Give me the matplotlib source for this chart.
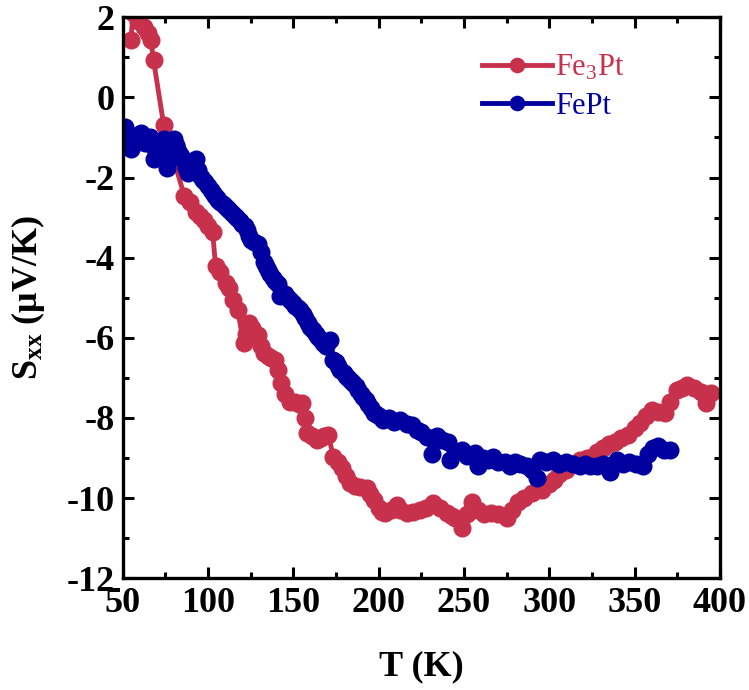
import matplotlib
matplotlib.use("Agg")
import matplotlib.pyplot as plt
from matplotlib.ticker import MultipleLocator

plt.rcParams['font.family'] = ['Liberation Serif', 'DejaVu Serif']
plt.rcParams['mathtext.fontset'] = 'custom'
plt.rcParams['mathtext.rm'] = 'Liberation Serif'
plt.rcParams['mathtext.it'] = 'Liberation Serif:italic'
plt.rcParams['mathtext.bf'] = 'Liberation Serif:bold'
plt.rcParams['axes.unicode_minus'] = False

fe3pt_T = [54.7, 56, 58.8, 62.3, 64.5, 66.4, 68, 74, 86, 89.5, 92.7, 95, 97.4, 100, 102.6,
           104.4, 107, 110.3, 112, 114.4, 117.3, 120.8, 122, 123.7, 126, 129, 131, 132.5,
           135, 137, 139.5, 141, 142.5, 145, 148.3, 151, 153, 155, 157, 158, 161, 164, 166,
           168, 170.5, 173.5, 176, 178.7, 181, 183.4, 186, 189, 193, 195, 197, 200, 202,
           204, 207.5, 211, 212.7, 216.8, 220, 224, 228, 232, 236, 240, 243, 245, 249, 252,
           254.8, 258, 262, 266, 270, 275, 278, 281.7, 285, 290, 293, 296, 300, 303, 306,
           310, 314, 318, 322, 325, 328, 331.5, 335, 338.5, 342, 346, 350, 353, 357, 360,
           364, 367.7, 371, 374.7, 378, 381, 385, 389, 392, 395]
fe3pt_S = [1.43, 2.1, 1.9, 1.75, 1.6, 1.43, 0.93, -0.7, -2.45, -2.6, -2.85, -2.95, -3.05, -3.2,
           -3.35, -4.22, -4.35, -4.63, -4.75, -5.05, -5.3, -6.13, -5.9, -5.63, -5.75, -5.93,
           -6.2, -6.38, -6.45, -6.5, -6.55, -6.8, -7.13, -7.4, -7.6, -7.6, -7.65, -7.63, -8.0,
           -8.38, -8.45, -8.55, -8.5, -8.45, -8.43, -8.98, -9.1, -9.25, -9.45, -9.63, -9.7,
           -9.72, -9.75, -9.9, -10.05, -10.25, -10.35, -10.38, -10.3, -10.18, -10.3, -10.38,
           -10.35, -10.3, -10.25, -10.13, -10.25, -10.38, -10.45, -10.5, -10.75, -10.4, -10.1,
           -10.3, -10.4, -10.38, -10.4, -10.5, -10.3, -10.1, -10.0, -9.88, -9.8, -9.8, -9.65,
           -9.55, -9.4, -9.3, -9.15, -9.05, -9.0, -8.97, -8.85, -8.75, -8.65, -8.6, -8.5,
           -8.42, -8.25, -8.12, -7.95, -7.8, -7.85, -7.88, -7.6, -7.3, -7.25, -7.18, -7.25,
           -7.35, -7.63, -7.38]

fept_T = [51, 52, 53, 54.7, 56, 57, 59, 60.5, 62, 63, 64.5, 66, 67, 68, 69.5, 71, 72.5, 74,
          75, 76, 77, 78, 79, 80, 81, 82, 83, 84, 85, 86, 87, 88, 89, 90, 91, 92.7, 94,
          95.6, 97, 98, 100, 101.5, 103, 104, 105, 106, 107, 108.5, 110, 111, 112.5, 114,
          115.5, 117, 118.5, 120, 121.5, 123, 124, 125, 127, 129, 131, 132.5, 134, 135,
          136.5, 138, 139.5, 140.7, 142, 143.5, 145, 146.5, 148, 149.5, 151, 152.5, 154,
          155.5, 157, 158.5, 160, 161.5, 163, 164.5, 166, 167.5, 169, 171.5, 173.5, 175,
          176, 177.5, 179.5, 181, 182, 183.5, 185, 186.5, 188, 189.5, 191, 192.5, 194,
          195.5, 197, 198.5, 200, 202.7, 206, 209, 212.7, 216.8, 219.7, 222.6, 225, 228.5,
          231.4, 234, 237, 240.7, 242, 245, 249, 252, 256.5, 258, 261, 264, 267, 270, 274,
          277, 280, 283, 287, 290, 292.8, 294.6, 298, 302, 306, 310, 314, 318, 321, 324,
          328, 331.5, 335.5, 339.6, 343, 347, 351, 355, 358, 361, 363.6, 367, 370.6]
fept_S = [-0.75, -0.9, -1.05, -1.3, -1.2, -1.0, -0.95, -0.9, -1.05, -1.15, -1.1, -1.0, -1.2,
          -1.55, -1.35, -1.2, -1.1, -1.05, -1.4, -1.75, -1.55, -1.3, -1.15, -1.05, -1.2,
          -1.3, -1.4, -1.47, -1.55, -1.6, -1.75, -1.88, -1.8, -1.7, -1.6, -1.55, -1.8,
          -1.98, -2.05, -2.1, -2.2, -2.3, -2.38, -2.45, -2.5, -2.55, -2.6, -2.65, -2.7,
          -2.75, -2.8, -2.88, -2.95, -3.0, -3.08, -3.15, -3.22, -3.3, -3.45, -3.55, -3.6,
          -3.65, -3.85, -4.1, -4.2, -4.3, -4.4, -4.5, -4.58, -4.65, -4.95, -4.9, -4.9,
          -4.98, -5.05, -5.12, -5.2, -5.25, -5.3, -5.4, -5.5, -5.62, -5.73, -5.8, -5.9,
          -5.98, -6.05, -6.12, -6.2, -6.05, -6.55, -6.6, -6.7, -6.8, -6.88, -6.95, -7.0,
          -7.07, -7.13, -7.2, -7.3, -7.4, -7.48, -7.55, -7.65, -7.75, -7.88, -7.9, -7.95,
          -8.05, -8.0, -8.1, -8.05, -8.15, -8.18, -8.3, -8.35, -8.48, -8.9, -8.45, -8.55,
          -8.6, -9.05, -8.85, -8.8, -8.95, -8.88, -9.2, -9.0, -9.05, -8.97, -9.1, -9.1,
          -9.2, -9.1, -9.15, -9.2, -9.3, -9.5, -9.05, -9.1, -9.05, -9.15, -9.1, -9.15,
          -9.2, -9.15, -9.2, -9.2, -9.15, -9.35, -9.05, -9.15, -9.1, -9.15, -9.2, -8.9,
          -8.75, -8.7, -8.8, -8.8]

red = '#C8314B'
blue = '#0000A0'

fig = plt.figure(figsize=(7.49, 6.90), dpi=100)
ax = fig.add_axes([0.164, 0.162, 0.797, 0.813])

ax.plot(fe3pt_T, fe3pt_S, '-o', color=red, lw=3.5, ms=12, label='Fe$_3$Pt')
ax.plot(fept_T, fept_S, '-o', color=blue, lw=3.5, ms=12, label='FePt')

ax.set_xlim(50, 400)
ax.set_ylim(-12, 2)
ax.xaxis.set_major_locator(MultipleLocator(50))
ax.xaxis.set_minor_locator(MultipleLocator(25))
ax.yaxis.set_major_locator(MultipleLocator(2))
ax.yaxis.set_minor_locator(MultipleLocator(1))
ax.tick_params(which='both', direction='in', top=True, right=True, width=2.2)
ax.tick_params(which='major', length=8, labelsize=26, pad=6)
ax.tick_params(which='minor', length=4)
for lab in ax.get_xticklabels() + ax.get_yticklabels():
    lab.set_fontweight('bold')
for sp in ax.spines.values():
    sp.set_linewidth(2.4)

ax.set_xlabel('T (K)', fontsize=26, fontweight='bold', labelpad=22)
ax.set_ylabel(r'S$_{\mathbf{xx}}$ (μV/K)', fontsize=26, fontweight='bold', labelpad=14)

leg = ax.legend(loc='upper left', bbox_to_anchor=(0.555, 0.985), frameon=False,
                fontsize=22, handlelength=2.3, handletextpad=0.1, labelspacing=0.3,
                markerscale=0.85)
for txt, c in zip(leg.get_texts(), [red, blue]):
    txt.set_color(c)

fig.savefig('out.png', dpi=100)
